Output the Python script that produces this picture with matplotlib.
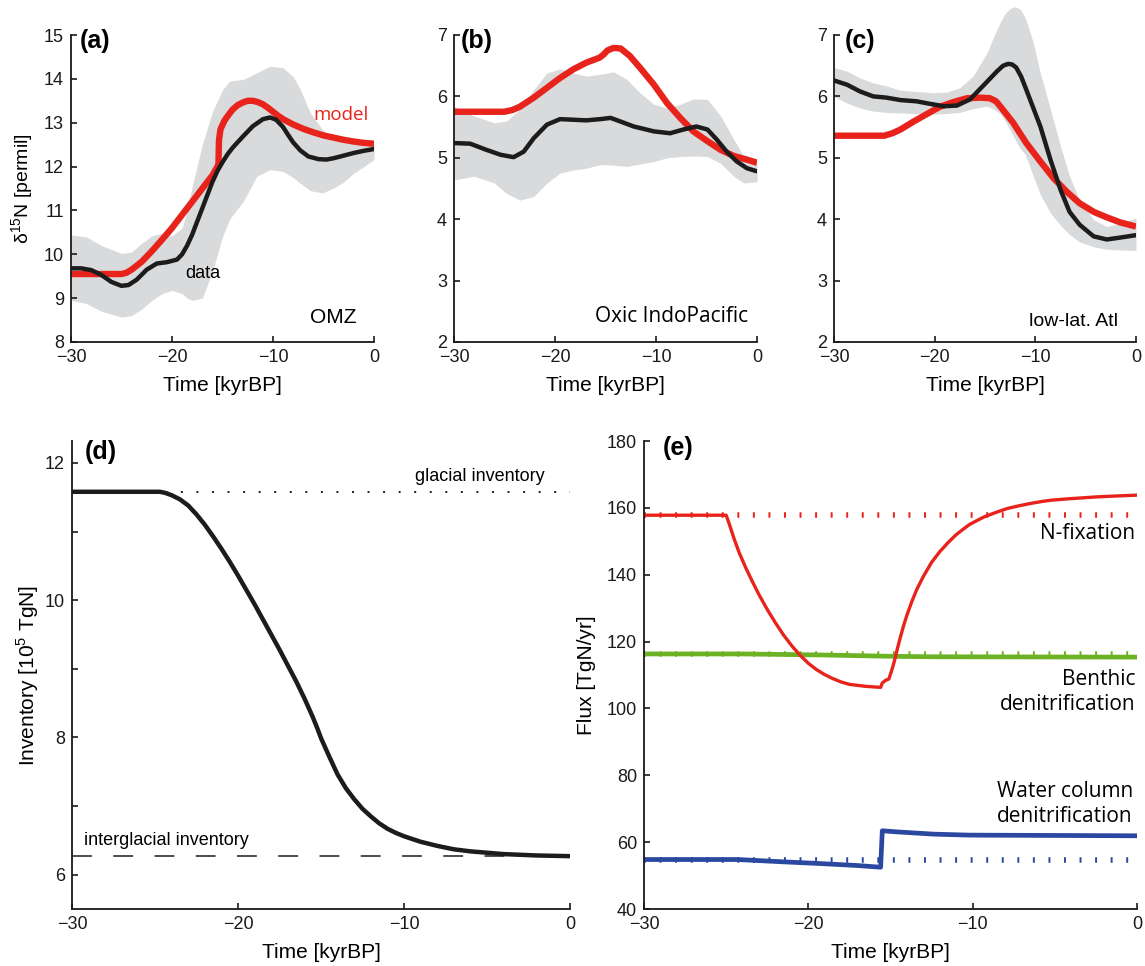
import numpy as np
import matplotlib
matplotlib.use("Agg")
import matplotlib.pyplot as plt

plt.rcParams['font.family'] = ['Liberation Sans', 'DejaVu Sans']
plt.rcParams['mathtext.fontset'] = 'custom'
plt.rcParams['mathtext.rm'] = 'Liberation Sans'
plt.rcParams['axes.unicode_minus'] = True

# ---------------- data ----------------
# Panel (a) OMZ
a_model_t = [-30, -25, -24.5, -24, -23, -22, -21, -20, -19, -18, -17, -16, -15.5, -15.4, -15.35, -15.2,
             -14.8, -14.4, -14, -13.5, -13, -12.5, -12, -11.5, -11, -10.5, -10, -9.5, -9, -8, -7, -6, -5,
             -4, -3, -2, -1, 0]
a_model_v = [9.55, 9.55, 9.58, 9.65, 9.83, 10.07, 10.33, 10.6, 10.9, 11.2, 11.5, 11.8, 12.0, 12.05, 12.6, 12.85,
             13.05, 13.18, 13.3, 13.4, 13.46, 13.5, 13.5, 13.47, 13.42, 13.34, 13.25, 13.16, 13.08, 12.96,
             12.86, 12.78, 12.71, 12.66, 12.61, 12.57, 12.54, 12.52]
a_data_t = [-30, -29, -28, -27, -26, -25, -24.3, -23.5, -22.5, -21.5, -20.5, -19.5, -19, -18.5, -18, -17.5,
            -17, -16.5, -16, -15.5, -15, -14.5, -14, -13, -12, -11, -10.3, -9.7, -9, -8.5, -8, -7.3, -6.5,
            -5.5, -4.7, -4, -3, -2, -1, 0]
a_data_v = [9.68, 9.68, 9.64, 9.53, 9.37, 9.28, 9.3, 9.42, 9.65, 9.79, 9.82, 9.88, 10.0, 10.2, 10.45, 10.75,
            11.05, 11.35, 11.65, 11.9, 12.1, 12.28, 12.43, 12.68, 12.92, 13.08, 13.12, 13.07, 12.9, 12.72,
            12.55, 12.37, 12.23, 12.17, 12.16, 12.19, 12.25, 12.31, 12.36, 12.4]
a_band_t = [-30, -28.5, -27, -25, -24, -23, -22, -21, -20, -19, -18.5, -18, -17, -16, -15, -14.3, -12.9,
            -11.6, -10.3, -9, -8, -7.3, -6.3, -5.1, -4, -3, -2, -1, 0]
a_band_hi = [10.44, 10.4, 10.2, 10.02, 10.05, 10.25, 10.42, 10.48, 10.42, 10.6, 11.0, 11.55, 12.5, 13.25,
             13.75, 13.95, 13.99, 14.14, 14.29, 14.25, 14.05, 13.76, 13.22, 12.84, 12.68, 12.6, 12.55, 12.52, 12.5]
a_band_lo = [8.95, 8.88, 8.7, 8.57, 8.6, 8.75, 8.95, 9.1, 9.18, 9.1, 9.0, 8.95, 9.0, 9.6, 10.4, 10.8,
             11.22, 11.78, 11.93, 11.89, 11.75, 11.62, 11.45, 11.4, 11.51, 11.65, 11.85, 12.0, 12.16]

# Panel (b) Oxic IndoPacific
b_model_t = [-30, -25, -24.2, -23.5, -22.1, -20.8, -19.5, -18.2, -16.9, -15.6, -15.2, -14.8, -14.2, -13.5,
             -12.6, -11.6, -10.2, -8.9, -7.6, -6.3, -4.9, -3.6, -2.3, -1, 0]
b_model_v = [5.75, 5.75, 5.78, 5.83, 5.98, 6.14, 6.3, 6.44, 6.55, 6.63, 6.68, 6.75, 6.79, 6.78,
             6.66, 6.47, 6.19, 5.89, 5.65, 5.43, 5.27, 5.13, 5.03, 4.97, 4.92]
b_data_t = [-30, -28.4, -26.8, -25.4, -24.1, -23.1, -22.1, -20.8, -19.5, -18.2, -16.9, -15.5, -14.5, -13.5,
            -12.2, -10.2, -8.6, -7.3, -6.0, -4.9, -4.0, -3.0, -2.0, -1.0, 0]
b_data_v = [5.24, 5.23, 5.13, 5.05, 5.01, 5.1, 5.32, 5.54, 5.63, 5.62, 5.61, 5.63, 5.65, 5.59,
            5.51, 5.43, 5.4, 5.46, 5.51, 5.46, 5.3, 5.1, 4.94, 4.83, 4.78]
b_band_t = [-30, -28, -26, -24.8, -23.5, -22.1, -20.8, -19.5, -18.2, -16.9, -15.5, -14.2, -12.9, -11.6,
            -10.2, -8.9, -7.6, -6.3, -4.9, -3.6, -2.3, -1.3, 0]
b_band_hi = [5.84, 5.68, 5.57, 5.6, 5.79, 6.11, 6.38, 6.45, 6.38, 6.33, 6.36, 6.4, 6.28, 6.06,
             5.87, 5.81, 5.87, 5.96, 5.95, 5.68, 5.3, 5.02, 4.91]
b_band_lo = [4.64, 4.7, 4.59, 4.42, 4.31, 4.37, 4.59, 4.75, 4.8, 4.83, 4.89, 4.88, 4.86, 4.9,
             4.94, 5.0, 5.02, 5.03, 5.02, 4.91, 4.7, 4.59, 4.61]

# Panel (c) low-lat. Atl
c_model_t = [-30, -25, -24.2, -23.4, -22.1, -20.8, -19.5, -18.1, -16.8, -15.5, -14.5, -13.9, -13.5, -12.2,
             -10.9, -9.5, -8.2, -6.9, -5.6, -4.2, -2.9, -1.6, 0]
c_model_v = [5.36, 5.36, 5.4, 5.46, 5.59, 5.71, 5.83, 5.91, 5.97, 5.98, 5.97, 5.92, 5.84, 5.57,
             5.24, 4.94, 4.67, 4.45, 4.26, 4.12, 4.03, 3.95, 3.88]
c_data_t = [-30, -28.7, -27.4, -26.1, -24.8, -23.4, -21.8, -20.5, -19.1, -17.8, -16.5, -15.2, -13.8, -13.2,
            -12.7, -12.3, -11.9, -11.4, -10.9, -9.5, -8.5, -7.5, -6.6, -5.6, -4.2, -2.9, -1.6, 0]
c_data_v = [6.26, 6.19, 6.08, 6.0, 5.98, 5.94, 5.92, 5.88, 5.84, 5.85, 5.95, 6.17, 6.41, 6.5,
            6.53, 6.52, 6.47, 6.32, 6.11, 5.51, 4.97, 4.48, 4.12, 3.91, 3.72, 3.67, 3.7, 3.74]
c_band_t = [-30, -28.7, -27.4, -26.1, -24.8, -23.4, -21.8, -20.1, -18.8, -17.5, -16.2, -14.8, -14.2, -13.5,
            -13.0, -12.5, -12.0, -11.5, -11.0, -10.6, -10.2, -9.5, -8.5, -7.5, -6.6, -5.6, -4.2, -2.9, -1.6, 0]
c_band_hi = [6.47, 6.41, 6.3, 6.22, 6.17, 6.1, 6.08, 6.06, 6.07, 6.14, 6.33, 6.71, 6.95, 7.2,
             7.35, 7.43, 7.46, 7.42, 7.28, 7.08, 6.87, 6.38, 5.79, 5.19, 4.7, 4.31, 3.99, 3.88, 3.93, 4.02]
c_band_lo = [6.0, 5.89, 5.81, 5.76, 5.74, 5.73, 5.72, 5.71, 5.72, 5.74, 5.8, 5.84, 5.8, 5.72,
             5.6, 5.45, 5.3, 5.15, 5.05, 4.88, 4.7, 4.4, 4.1, 3.9, 3.75, 3.63, 3.55, 3.51, 3.5, 3.49]

# Panel (d) inventory
d_t = [-30, -24.7, -24.4, -24.0, -23.5, -23.0, -22.5, -22.0, -21.5, -21.0, -20.5, -20.0, -19.5, -19.0,
       -18.5, -18.0, -17.5, -17.0, -16.5, -16.0, -15.5, -15.2, -15.0, -14.5, -14.0, -13.5, -13.0, -12.5,
       -12.0, -11.5, -11.0, -10.5, -10.0, -9.0, -8.0, -7.0, -6.0, -5.0, -4.0, -3.0, -2.0, -1.0, 0]
d_inv = [11.58, 11.58, 11.565, 11.53, 11.47, 11.38, 11.25, 11.1, 10.93, 10.75, 10.56, 10.36, 10.15, 9.94,
         9.72, 9.5, 9.28, 9.05, 8.82, 8.57, 8.3, 8.12, 7.99, 7.72, 7.46, 7.26, 7.1, 6.96,
         6.85, 6.75, 6.67, 6.61, 6.56, 6.48, 6.42, 6.37, 6.34, 6.32, 6.3, 6.29, 6.28, 6.275, 6.27]
d_glacial = 11.58
d_interglacial = 6.27

# Panel (e) fluxes
e_nfix_t = [-30, -25.0, -24.8, -24.5, -24.2, -23.8, -23.4, -23.0, -22.5, -22.0, -21.5, -21.0, -20.5, -20.0,
            -19.5, -19.0, -18.5, -18.0, -17.5, -17.0, -16.5, -15.6, -15.5, -15.3, -15.1, -14.95, -14.8,
            -14.6, -14.4, -14.2, -14.0, -13.7, -13.4, -13.0, -12.5, -12.0, -11.5, -11.0, -10.5, -10.2,
            -9.7, -9.3, -8.6, -7.9, -7.2, -6.5, -5.8, -5.2, -4.2, -3.3, -2.4, -1.5, 0]
e_nfix_v = [157.8, 157.8, 155.0, 150.5, 146.5, 142.0, 137.9, 134.0, 129.6, 125.6, 121.9, 118.7, 115.9, 113.5,
            111.6, 110.1, 108.9, 107.9, 107.2, 106.9, 106.6, 106.3, 107.6, 108.4, 108.8, 111.0, 113.5,
            117.5, 121.3, 124.8, 127.9, 132.0, 135.6, 139.5, 143.7, 146.9, 149.6, 152.0, 153.9, 155.0,
            156.3, 157.3, 158.6, 159.8, 160.6, 161.3, 161.9, 162.3, 162.7, 163.0, 163.3, 163.5, 163.8]
e_benth_t = [-30, -24, -19.3, -15, -12.5, 0]
e_benth_v = [116.3, 116.3, 116.0, 115.6, 115.45, 115.35]
e_wc_t = [-30, -24.3, -21.5, -19.3, -17.0, -15.6, -15.5, -14.7, -12.4, -10.2, 0]
e_wc_v = [54.8, 54.8, 54.1, 53.6, 53.0, 52.5, 63.4, 63.1, 62.4, 62.1, 61.9]
e_ref_nfix = 157.8
e_ref_benth = 116.3
e_ref_wc = 54.8

xticks = [-30, -20, -10, 0]

RED = '#e8231b'
BLACK = '#1c1c1c'
GREY = '#d9dadc'
GREEN = '#6cb224'
BLUE = '#2b48a0'
MYRIAD = ['Open Sans', 'DejaVu Sans']

W, H = 1145, 966
fig = plt.figure(figsize=(W / 100, H / 100), dpi=100)


def add_ax(l, r, t, b):
    return fig.add_axes([l / W, 1 - b / H, (r - l) / W, (b - t) / H])


def style(ax):
    for s in ['top', 'right']:
        ax.spines[s].set_visible(False)
    for s in ['left', 'bottom']:
        ax.spines[s].set_linewidth(1.3)
        ax.spines[s].set_color('#1a1a1a')
    ax.tick_params(direction='in', length=4, width=1.2, labelsize=13, pad=5, colors='#1a1a1a')
    ax.set_xlim(-30, 0)
    ax.set_xticks(xticks)
    ax.set_xlabel('Time [kyrBP]', fontsize=15, labelpad=7)


ax_a = add_ax(71, 374, 35, 342)
ax_b = add_ax(454, 757, 35, 342)
ax_c = add_ax(834, 1136, 35, 342)
ax_d = add_ax(72, 570, 441, 909)
ax_e = add_ax(644, 1137, 441, 909)

# (a)
ax_a.fill_between(a_band_t, a_band_lo, a_band_hi, color=GREY, lw=0)
ax_a.plot(a_model_t, a_model_v, color=RED, lw=4.6, solid_capstyle='butt', solid_joinstyle='round')
ax_a.plot(a_data_t, a_data_v, color=BLACK, lw=3.2, solid_capstyle='round', solid_joinstyle='round')
ax_a.set_ylim(8, 15)
ax_a.set_yticks(range(8, 16))
ax_a.set_ylabel('δ$^{\\mathregular{15}}$N [permil]', fontsize=14, labelpad=6)
ax_a.text(-0.5, 13.18, 'model', color=RED, fontsize=13.5, ha='right', va='center', family=MYRIAD)
ax_a.text(-16.9, 9.56, 'data', color='black', fontsize=13, ha='center', va='center')
ax_a.text(-4.0, 8.55, 'OMZ', color='black', fontsize=15, ha='center', va='center')

# (b)
ax_b.fill_between(b_band_t, b_band_lo, b_band_hi, color=GREY, lw=0)
ax_b.plot(b_model_t, b_model_v, color=RED, lw=4.6, solid_capstyle='butt', solid_joinstyle='round')
ax_b.plot(b_data_t, b_data_v, color=BLACK, lw=3.2, solid_capstyle='round', solid_joinstyle='round')
ax_b.set_ylim(2, 7)
ax_b.set_yticks(range(2, 8))
ax_b.text(-0.9, 2.42, 'Oxic IndoPacific', fontsize=15, ha='right', va='center', family=MYRIAD)

# (c)
fc = ax_c.fill_between(c_band_t, c_band_lo, c_band_hi, color=GREY, lw=0)
fc.set_clip_on(False)
ax_c.plot(c_model_t, c_model_v, color=RED, lw=4.6, solid_capstyle='butt', solid_joinstyle='round')
ax_c.plot(c_data_t, c_data_v, color=BLACK, lw=3.2, solid_capstyle='round', solid_joinstyle='round')
ax_c.set_ylim(2, 7)
ax_c.set_yticks(range(2, 8))
ax_c.text(-1.8, 2.33, 'low-lat. Atl', fontsize=14, ha='right', va='center')

# (d)
ax_d.plot([-30, 0], [d_glacial, d_glacial], color=BLACK, lw=1.4, linestyle=(0, (1, 7)))
ax_d.plot([-30, 0], [d_interglacial, d_interglacial], color=BLACK, lw=1.1, linestyle=(0, (13, 14)))
ax_d.plot(d_t, d_inv, color=BLACK, lw=3.2, solid_joinstyle='round')
ax_d.set_ylim(5.5, 12.32)
ax_d.set_yticks(range(6, 13))
ax_d.set_yticklabels([str(v) if v % 2 == 0 else '' for v in range(6, 13)])
ax_d.set_ylabel('Inventory [10$^{\\mathregular{5}}$ TgN]', fontsize=15, labelpad=3)
ax_d.text(-1.5, 11.8, 'glacial inventory', fontsize=13, ha='right', va='center')
ax_d.text(-29.3, 6.5, 'interglacial inventory', fontsize=13, ha='left', va='center')

# (e)
dots = (0, (0.35, 2.45))
ax_e.plot([-30, 0], [e_ref_nfix, e_ref_nfix], color=RED, lw=4, linestyle=dots, dash_capstyle='butt')
ax_e.plot([-30, 0], [e_ref_benth, e_ref_benth], color=GREEN, lw=4, linestyle=dots, dash_capstyle='butt')
ax_e.plot([-30, 0], [e_ref_wc, e_ref_wc], color=BLUE, lw=4, linestyle=dots, dash_capstyle='butt')
ax_e.plot(e_benth_t, e_benth_v, color=GREEN, lw=3.4)
ax_e.plot(e_nfix_t, e_nfix_v, color=RED, lw=2.4, solid_joinstyle='round')
ax_e.plot(e_wc_t, e_wc_v, color=BLUE, lw=3.4)
ax_e.set_ylim(40, 180)
ax_e.set_yticks(range(40, 181, 20))
ax_e.set_ylabel('Flux [TgN/yr]', fontsize=15, labelpad=8)
ax_e.text(-0.1, 152.2, 'N-fixation', fontsize=15, ha='right', va='center', family=MYRIAD)
ax_e.text(-0.1, 105.0, 'Benthic\ndenitrification', fontsize=15, ha='right', va='center',
          multialignment='right', family=MYRIAD, linespacing=1.25)
ax_e.text(-8.5, 71.3, 'Water column\ndenitrification', fontsize=15, ha='left', va='center',
          multialignment='left', family=MYRIAD, linespacing=1.25)

for ax in [ax_a, ax_b, ax_c, ax_d, ax_e]:
    style(ax)
ax_d.yaxis.labelpad = 3

for ax, lab, xf, yf in [(ax_a, '(a)', 0.03, 0.98), (ax_b, '(b)', 0.023, 0.98), (ax_c, '(c)', 0.036, 0.98),
                        (ax_d, '(d)', 0.026, 0.976), (ax_e, '(e)', 0.039, 0.985)]:
    ax.text(xf, yf, lab, transform=ax.transAxes, fontsize=18, fontweight='bold', ha='left', va='center')

fig.savefig('out.png', dpi=100)
